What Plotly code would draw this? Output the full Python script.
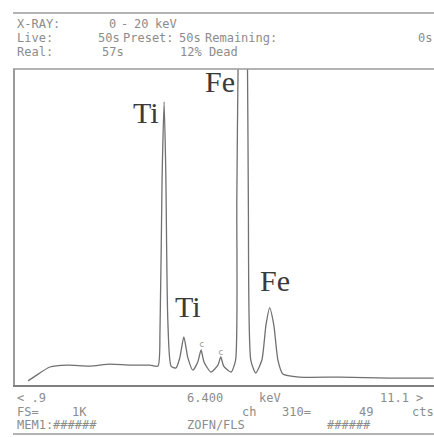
import plotly.graph_objects as go

# Spectrum data (energy in keV, counts)
energy_kev = [1.22, 1.39, 1.75, 2.17, 2.72, 3.21, 3.70, 4.18, 4.38,
              4.43, 4.48, 4.53, 4.57, 4.62, 4.70, 4.82,
              4.91, 5.01, 5.11, 5.23,
              5.35, 5.43, 5.50, 5.67,
              5.84, 5.91, 5.98, 6.16,
              6.27, 6.30, 6.33, 6.44, 6.56, 6.58, 6.64, 6.76,
              6.91, 7.01, 7.10, 7.20, 7.30, 7.42,
              7.83, 8.81, 10.02, 11.09]
counts = [13, 28, 57, 63, 60, 66, 63, 63, 60,
          174, 649, 896, 680, 206, 60, 54,
          85, 152, 85, 47,
          73, 111, 73, 41,
          63, 89, 60, 41,
          79, 585, 1000, 1700, 1000, 585, 79, 38,
          79, 190, 244, 190, 79, 35,
          25, 25, 22, 22]

x_range = [0.9, 11.1]
full_scale = 1000

# Peak labels
peak_labels = ["Ti", "Fe", "Ti", "Fe"]
peak_label_kev = [4.09, 5.88, 5.11, 7.23]
peak_label_counts = [862, 960, 248, 332]

W, H = 434, 437
L, R, T, B = 15, 0, 69, 52
PH = H - T - B
PW = W - L - R


def py(y_px):
    return 1 - (y_px - T) / PH


def pxx(x_px):
    return (x_px - L) / PW


fig = go.Figure()
fig.add_trace(go.Scatter(x=energy_kev, y=counts, mode="lines",
                         line=dict(color="#707070", width=1.3, shape="spline", smoothing=0.6),
                         hoverinfo="skip", showlegend=False))

ann = []
for t, xk, yc in zip(peak_labels, peak_label_kev, peak_label_counts):
    ann.append(dict(x=xk, y=yc, xref="x", yref="y", text=t, showarrow=False,
                    font=dict(family="Liberation Serif", size=30, color="#3a3a3a"),
                    xanchor="center", yanchor="middle"))

# KLM markers above the small peaks
for xk, yc in [(5.43, 130), (5.91, 105)]:
    ann.append(dict(x=xk, y=yc, xref="x", yref="y", text="c", showarrow=False,
                    font=dict(family="DejaVu Sans Mono", size=9, color="#999999"),
                    xanchor="center", yanchor="middle"))

mono = dict(family="DejaVu Sans Mono", size=12, color="#8c8c8c")
header = [
    (15, 24, "X-RAY:"), (107, 24, "0"), (119, 24, "-"), (132, 24, "20"), (153, 24, "keV"),
    (15, 38, "Live:"), (96, 38, "50s"), (121, 38, "Preset:"), (177, 38, "50s"),
    (203, 38, "Remaining:"), (416, 38, "0s"),
    (15, 52, "Real:"), (100, 52, "57s"), (178, 52, "12% Dead"),
    (15, 398, "< .9"), (185, 398, "6.400"), (257, 398, "keV"), (378, 398, "11.1 >"),
    (15, 412, "FS="), (70, 412, "1K"), (240, 412, "ch"), (280, 412, "310="),
    (357, 412, "49"), (410, 412, "cts"),
    (15, 425, "MEM1:######"), (185, 425, "ZOFN/FLS"), (325, 425, "######"),
]
for xp, yp, t in header:
    ann.append(dict(x=pxx(xp), y=py(yp), xref="paper", yref="paper", text=t,
                    showarrow=False, font=mono, xanchor="left", yanchor="middle"))

shapes = []
for yp, w in [(13, 1.5), (69, 1.5), (434, 1.5)]:
    shapes.append(dict(type="line", xref="paper", yref="paper",
                       x0=pxx(13), x1=1, y0=py(yp), y1=py(yp),
                       line=dict(color="#9a9a9a", width=w)))

fig.update_layout(
    width=W, height=H,
    margin=dict(l=L, r=R, t=T, b=B),
    paper_bgcolor="white", plot_bgcolor="white",
    xaxis=dict(range=x_range, showgrid=False, zeroline=False, showticklabels=False,
               ticks="", showline=True, linecolor="#808080", linewidth=2),
    yaxis=dict(range=[0, full_scale], showgrid=False, zeroline=False, showticklabels=False,
               ticks="", showline=True, linecolor="#9a9a9a", linewidth=1.5),
    annotations=ann, shapes=shapes,
)

fig.write_html("out.html")
